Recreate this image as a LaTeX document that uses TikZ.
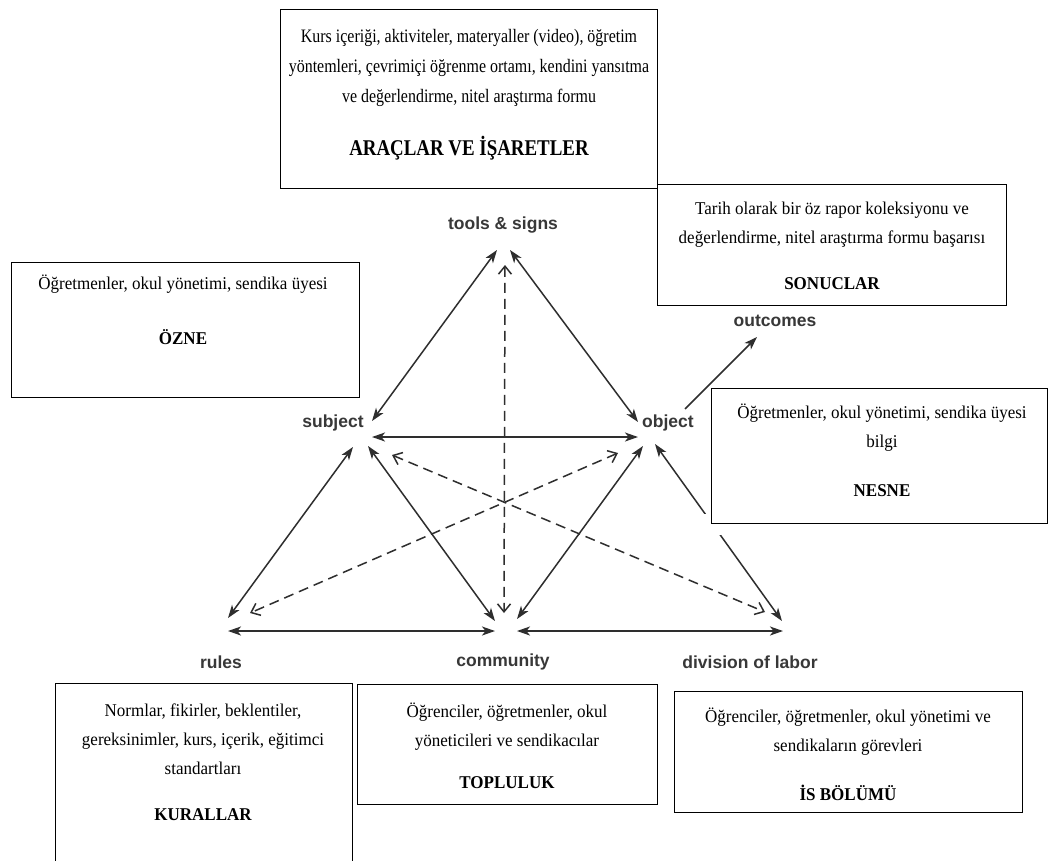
\documentclass[tikz,border=0pt]{standalone}
\usepackage{fontspec}
\setmainfont{Liberation Serif}
\newfontfamily\topfont[FakeStretch=0.84]{Liberation Serif}
\newfontfamily\boxfont[FakeStretch=0.945]{Liberation Serif}
\newfontfamily\labfont{Liberation Sans}
\usepackage{tikz}
\usetikzlibrary{arrows.meta}
\usepackage{xcolor}
\definecolor{linegray}{HTML}{2E2E2E}
\definecolor{labgray}{HTML}{383838}
\tikzset{
  infobox/.style={draw=black, line width=1.2pt, fill=white, inner sep=0, anchor=north west},
  toptext/.style={font=\topfont\fontsize{19}{30}\selectfont, align=center, inner sep=0},
  toptitle/.style={font=\topfont\bfseries\fontsize{22.5}{26}\selectfont, inner sep=0},
  infotext/.style={font=\boxfont\fontsize{18}{29}\selectfont, align=center, inner sep=0},
  infotitle/.style={font=\boxfont\bfseries\fontsize{18}{22}\selectfont, inner sep=0},
  vertex/.style={font=\labfont\bfseries\fontsize{17.5}{20}\selectfont, text=labgray, inner sep=0},
  link/.style={draw=linegray, line width=1.5pt, {Stealth[length=13pt,width=9pt,inset=3.5pt]}-{Stealth[length=13pt,width=9pt,inset=3.5pt]}},
  onelink/.style={draw=linegray, line width=1.5pt, -{Stealth[length=13pt,width=9pt,inset=3.5pt]}},
  dashlink/.style={draw=linegray, line width=1.5pt, dash pattern=on 10pt off 6pt, {Straight Barb[length=8pt,width=13pt]}-{Straight Barb[length=8pt,width=13pt]}}
}

\begin{document}
\begin{tikzpicture}[x=1pt, y=-1pt]
	\useasboundingbox[fill=white] (0,0) rectangle (1052,860);
	% vertices of the triangle
	\node[vertex] (tools) at (503,225) {tools \& signs};
	\node[vertex] (subject) at (333,423) {subject};
	\node[vertex] (object) at (668,423) {object};
	\node[vertex] (outcomes) at (775,321) {outcomes};
	\node[vertex] (rules) at (221,662) {rules};
	\node[vertex] (community) at (503,662) {community};
	\node[vertex] (division) at (750,662) {division of labor};
	% solid links
	\draw[link] ([shift={(-6,25)}]tools.center) -- ([shift={(39,-2)}]subject.center);
	\draw[link] ([shift={(7,25)}]tools.center) -- ([shift={(-30,-1)}]object.center);
	\draw[link] ([shift={(39,14)}]subject.center) -- ([shift={(-30,14)}]object.center);
	\draw[onelink] ([shift={(17,-14)}]object.center) -- ([shift={(-18,16)}]outcomes.center);
	\draw[link] ([shift={(20,24)}]subject.center) -- ([shift={(7,-44)}]rules.center);
	\draw[link] ([shift={(35,23)}]subject.center) -- ([shift={(-8,-41)}]community.center);
	\draw[link] ([shift={(-25,23)}]object.center) -- ([shift={(14,-43)}]community.center);
	\draw[link] ([shift={(-13,21)}]object.center) -- ([shift={(32,-41)}]division.center);
	\draw[link] ([shift={(7,-31)}]rules.center) -- ([shift={(-8,-31)}]community.center);
	\draw[link] ([shift={(14,-31)}]community.center) -- ([shift={(33,-31)}]division.center);
	% dashed links
	\draw[dashlink] ([shift={(2,40)}]tools.center) -- ([shift={(1,-49)}]community.center);
	\draw[dashlink] ([shift={(59,32)}]subject.center) -- ([shift={(15,-50)}]division.center);
	\draw[dashlink] ([shift={(-50,30)}]object.center) -- ([shift={(29,-49)}]rules.center);
	% gap in the link below the object box
	\fill[white] (703,514) rectangle (722,535);
	% boxes
	\node[infobox, minimum width=377, minimum height=179] (toolsbox) at (280,9) {};
	\node[toptext] (toolstext) at (469,68) {Kurs içeriği, aktiviteler, materyaller (video), öğretim\\yöntemleri, çevrimiçi öğrenme ortamı, kendini yansıtma\\ve değerlendirme, nitel araştırma formu};
	\node[toptitle] (toolstitle) at (469,148) {ARAÇLAR VE İŞARETLER};
	\node[infobox, minimum width=349, minimum height=121] (outbox) at (657,184) {};
	\node[infotext] (outtext) at (832,225) {Tarih olarak bir öz rapor koleksiyonu ve\\değerlendirme, nitel araştırma formu başarısı};
	\node[infotitle] (outtitle) at (832,284) {SONUCLAR};
	\node[infobox, minimum width=348, minimum height=135] (subjbox) at (11,262) {};
	\node[infotext] (subjtext) at (183,284) {Öğretmenler, okul yönetimi, sendika üyesi};
	\node[infotitle] (subjtitle) at (183,337) {ÖZNE};
	\node[infobox, minimum width=336, minimum height=135] (objbox) at (711,388) {};
	\node[infotext] (objtext) at (882,428) {Öğretmenler, okul yönetimi, sendika üyesi\\bilgi};
	\node[infotitle] (objtitle) at (882,491) {NESNE};
	\node[infobox, minimum width=297, minimum height=190] (rulesbox) at (55,683) {};
	\node[infotext] (rulestext) at (203,739) {Normlar, fikirler, beklentiler,\\gereksinimler, kurs, içerik, eğitimci\\standartları};
	\node[infotitle] (rulestitle) at (203,815) {KURALLAR};
	\node[infobox, minimum width=300, minimum height=120] (commbox) at (357,684) {};
	\node[infotext] (commtext) at (507,727) {Öğrenciler, öğretmenler, okul\\yöneticileri ve sendikacılar};
	\node[infotitle] (commtitle) at (507,783) {TOPLULUK};
	\node[infobox, minimum width=348, minimum height=121] (divbox) at (674,691) {};
	\node[infotext] (divtext) at (848,732) {Öğrenciler, öğretmenler, okul yönetimi ve\\sendikaların görevleri};
	\node[infotitle] (divtitle) at (848,793) {İS BÖLÜMÜ};
\end{tikzpicture}
\end{document}
